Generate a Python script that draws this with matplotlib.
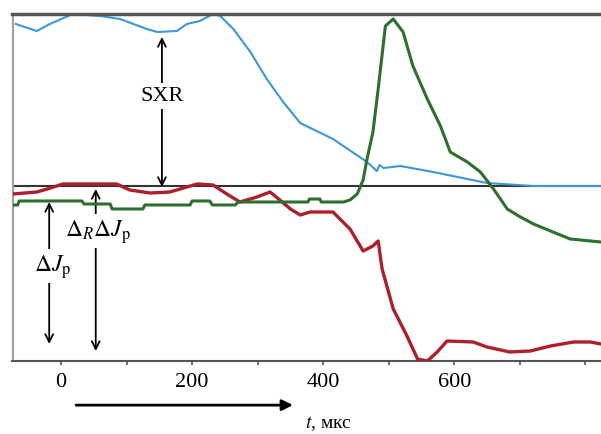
import matplotlib
matplotlib.use("Agg")
from matplotlib import pyplot as plt

plt.rcParams['font.family'] = ['Liberation Serif', 'DejaVu Serif']
plt.rcParams['mathtext.fontset'] = 'stix'

# SXR signal (a.u., 0 = reference line)
sxr_t = [-69, -37, -17, 18, 60, 90, 131, 147, 177, 192, 212, 232, 243, 263, 289,
         314, 339, 365, 415, 467, 482, 486, 492, 518, 568, 620, 650, 721, 824]
sxr_y = [161.5, 154.5, 161.5, 171.5, 169.5, 166.5, 156.5, 153.5, 154.5, 161.5,
         164.5, 171.5, 169.5, 156.5, 133.5, 106.5, 83.5, 62.5, 46.5, 23.5, 14.5,
         20.5, 17.5, 19.5, 13.5, 6.5, 2.5, -0.5, -0.5]

# delta J_p (green)
dj_t = [-73, -66, -64, 32, 35, 75, 78, 125, 128, 197, 200, 227, 231, 266, 270,
        377, 379, 395, 397, 431, 441, 452, 461, 467, 476, 484, 495, 507, 522,
        537, 559, 579, 594, 620, 640, 660, 681, 701, 721, 747, 777, 824]
dj_y = [-19.5, -19.5, -15.5, -15.5, -18.5, -18.5, -23.5, -23.5, -19.5, -19.5,
        -15.5, -15.5, -19.5, -19.5, -16.5, -16.5, -13.5, -13.5, -16.5, -16.5,
        -14.5, -8.5, 5.5, 26.5, 53.5, 96.5, 159.5, 166.5, 153.5, 119.5, 86.5,
        59.5, 33.5, 23.5, 13.5, -3.5, -23.5, -31.5, -38.5, -45.5, -53.5, -56.5]

# delta_R delta J_p (red)
dr_t = [-73, -37, -21, 3, 85, 105, 136, 166, 192, 208, 232, 253, 273, 299, 319,
        334, 350, 365, 380, 415, 441, 461, 476, 484, 490, 507, 528, 544, 559,
        574, 589, 629, 650, 685, 716, 747, 782, 808, 824]
dr_y = [-8.5, -6.5, -3.5, 1.5, 1.5, -4.5, -7.5, -6.5, -1.5, 1.5, 0.5, -8.5,
        -16.5, -11.5, -6.5, -14.5, -23.5, -29.5, -26.5, -26.5, -43.5, -65.5,
        -60.5, -55.5, -83.5, -123.5, -150.5, -173.5, -175.5, -166.5, -155.5,
        -156.5, -161.5, -166.5, -165.5, -160.5, -156.5, -156.5, -158.5]

ticks = [0, 100, 200, 300, 400, 500, 600, 700, 800]
tick_labels = ['0', '', '200', '', '400', '', '600', '', '']

fig = plt.figure(figsize=(6.01, 4.35), dpi=100)
ax = fig.add_axes([12.5 / 601, 1 - 362 / 435, 1 - 12.5 / 601, (362 - 14.5) / 435])
ax.set_xlim(-74, 824)
ax.set_ylim(-175.5, 172)

ax.axhline(0, color='#333333', lw=1.5, zorder=1)
ax.plot(sxr_t, sxr_y, color='#3b98d8', lw=1.5, zorder=2)
ax.plot(dr_t, dr_y, color='#ad1f2a', lw=2.4, zorder=3)
ax.plot(dj_t, dj_y, color='#2e6e2e', lw=2.2, zorder=4)

ax.spines['right'].set_visible(False)
ax.spines['top'].set_color('#555555')
ax.spines['top'].set_linewidth(2.5)
ax.spines['left'].set_color('#a0a0a0')
ax.spines['left'].set_linewidth(1.5)
ax.spines['bottom'].set_color('#555555')
ax.spines['bottom'].set_linewidth(1.5)

ax.set_xticks(ticks)
ax.set_xticklabels(tick_labels, fontsize=16)
ax.tick_params(axis='x', direction='out', length=3, width=1.2, color='#555555', pad=5)
ax.set_yticks([])

arrow = dict(arrowstyle='<->', color='black', lw=1.3, mutation_scale=14, shrinkA=0, shrinkB=0)
box = dict(boxstyle='square,pad=0.15', fc='white', ec='none')

ax.annotate('', xy=(154, 148.5), xytext=(154, -1.5), arrowprops=arrow)
ax.text(154, 89.5, 'SXR', fontsize=16, ha='center', va='center', bbox=box, zorder=6)

ax.annotate('', xy=(-18, -16.5), xytext=(-18, -158.5), arrowprops=arrow)
ax.text(-12, -80.5, r'$\Delta J_\mathrm{p}$', fontsize=17, ha='center', va='center', bbox=box, zorder=6)

ax.annotate('', xy=(53, -3.5), xytext=(53, -165.5), arrowprops=arrow)
ax.text(57, -45.5, r'$\Delta_R\Delta J_\mathrm{p}$', fontsize=17, ha='center', va='center', bbox=box, zorder=6)

# time arrow under the axis
tr = ax.get_xaxis_transform()
ax.annotate('', xy=(354, -0.127), xytext=(23, -0.127), xycoords=tr, textcoords=tr,
            arrowprops=dict(arrowstyle='-|>', color='black', lw=2, mutation_scale=16,
                            shrinkA=0, shrinkB=0), annotation_clip=False)
ax.text(408, -0.178, r'$t$, мкс', transform=tr, fontsize=14, ha='center', va='center')

fig.savefig('out.png', dpi=100)
